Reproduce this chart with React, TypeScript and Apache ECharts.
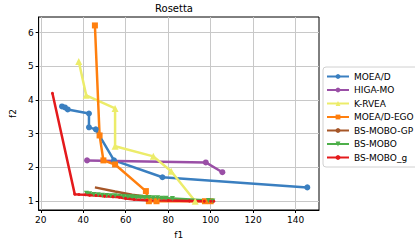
import React, { useEffect, useRef } from "react";
import * as echarts from "echarts";

const xTicks = [20, 40, 60, 80, 100, 120, 140];
const yTicks = [1, 2, 3, 4, 5, 6];

const moead = [[30, 3.81], [31.4, 3.78], [32.7, 3.72], [42.7, 3.6], [42.7, 3.19], [45.9, 3.13], [54.5, 2.21], [77.3, 1.71], [145.5, 1.41]];
const higamo = [[41.8, 2.21], [97.7, 2.15], [105.5, 1.86]];
const krvea = [[37.9, 5.14], [41.4, 4.14], [55, 3.75], [55, 2.63], [73, 2.33], [81.4, 1.89], [92.7, 1.0]];
const moeadEgo = [[45.5, 6.21], [47.7, 2.95], [49.5, 2.21], [55, 2.09], [69.5, 1.3], [70.9, 1.0], [74.5, 1.0], [97.3, 1.0], [100, 1.0]];
const bsMoboGp = [[45.5, 1.41], [55, 1.29], [63, 1.19], [70, 1.13]];
const bsMobo = [[41.5, 1.24], [43, 1.22], [45, 1.2], [47, 1.19], [49, 1.18], [51, 1.17], [53, 1.16], [55, 1.16], [57, 1.15], [59, 1.14], [61, 1.13], [63, 1.13], [65, 1.12], [67, 1.12], [69, 1.11], [71, 1.11], [73, 1.1], [75, 1.1], [77, 1.09], [79, 1.09], [82, 1.08], [99, 1.02], [101, 1.01]];
const bsMoboG = [[25.5, 4.2], [36, 1.21], [38, 1.2], [41, 1.19], [43, 1.18], [46, 1.17], [50, 1.15], [54, 1.13], [57, 1.12], [60, 1.08], [64, 1.05], [70, 1.03], [80, 1.02], [90, 1.01], [97, 1.0], [100, 1.0], [101.5, 1.0]];

const seriesDefs = [
  { name: "MOEA/D", data: moead, color: "#3a7fc0", symbol: "circle", size: 6 },
  { name: "HIGA-MO", data: higamo, color: "#9a4fa6", symbol: "circle", size: 6 },
  { name: "K-RVEA", data: krvea, color: "#ecec6a", symbol: "triangle", size: 7 },
  { name: "MOEA/D-EGO", data: moeadEgo, color: "#ff7f0e", symbol: "rect", size: 6 },
  { name: "BS-MOBO-GP", data: bsMoboGp, color: "#a65628", symbol: "none", size: 4 },
  { name: "BS-MOBO", data: bsMobo, color: "#4daf4a", symbol: "triangle", size: 5, rotate: 180 },
  { name: "BS-MOBO_g", data: bsMoboG, color: "#e41a1c", symbol: "circle", size: 3 },
];

const FONT = "DejaVu Sans";

export default function App() {
  const ref = useRef<HTMLDivElement>(null);
  useEffect(() => {
    const chart = echarts.init(ref.current!, null, { renderer: "svg" });
    chart.setOption({
      animation: false,
      textStyle: { fontFamily: FONT },
      title: {
        text: "Rosetta",
        left: 174,
        top: 0,
        padding: [3, 0, 0, 0],
        textAlign: "center",
        textStyle: { fontSize: 10, fontWeight: "normal", color: "#000", fontFamily: FONT },
      },
      grid: { left: 29, right: 96, top: 17, bottom: 33, containLabel: false, show: true, borderColor: "#000", borderWidth: 1, backgroundColor: "transparent" },
      xAxis: {
        type: "value",
        min: 19,
        max: 151,
        name: "f1",
        nameLocation: "middle",
        nameGap: 20,
        nameTextStyle: { fontSize: 9, color: "#000", fontFamily: FONT },
        axisLine: { show: true, onZero: false, lineStyle: { color: "#000", width: 1 } },
        axisTick: { show: true, customValues: xTicks, length: 3, lineStyle: { color: "#000" } },
        axisLabel: { customValues: xTicks, fontSize: 9, color: "#000", margin: 5, fontFamily: FONT },
        splitLine: { show: true, lineStyle: { color: "#c8c8c8", width: 1 } },
      },
      yAxis: {
        type: "value",
        min: 0.74,
        max: 6.46,
        name: "f2",
        nameLocation: "middle",
        nameGap: 18,
        nameTextStyle: { fontSize: 9, color: "#000", fontFamily: FONT },
        axisLine: { show: true, onZero: false, lineStyle: { color: "#000", width: 1 } },
        axisTick: { show: true, customValues: yTicks, length: 3, lineStyle: { color: "#000" } },
        axisLabel: { customValues: yTicks, fontSize: 9, color: "#000", margin: 5, fontFamily: FONT },
        splitLine: { show: true, lineStyle: { color: "#c8c8c8", width: 1 } },
      },
      legend: {
        orient: "vertical",
        left: 323,
        top: 67,
        itemWidth: 22,
        itemHeight: 6,
        itemGap: 4.5,
        padding: [5, 10, 5, 3],
        borderColor: "#d0d0d0",
        borderWidth: 1,
        borderRadius: 3,
        textStyle: { fontSize: 9, color: "#000", fontFamily: FONT },
        data: seriesDefs.map((s) => s.name),
      },
      series: seriesDefs.map((s: any) => ({
        type: "line",
        name: s.name,
        data: s.data,
        symbol: s.symbol,
        symbolSize: s.size,
        symbolRotate: s.rotate || 0,
        showSymbol: s.symbol !== "none",
        lineStyle: { color: s.color, width: 2.5 },
        itemStyle: { color: s.color },
        color: s.color,
        z: 2,
      })),
    });
    return () => chart.dispose();
  }, []);
  return (
    <div
      ref={ref}
      style={{ position: "fixed", left: 0, top: 0, width: 415, height: 244, background: "#fff" }}
    />
  );
}
